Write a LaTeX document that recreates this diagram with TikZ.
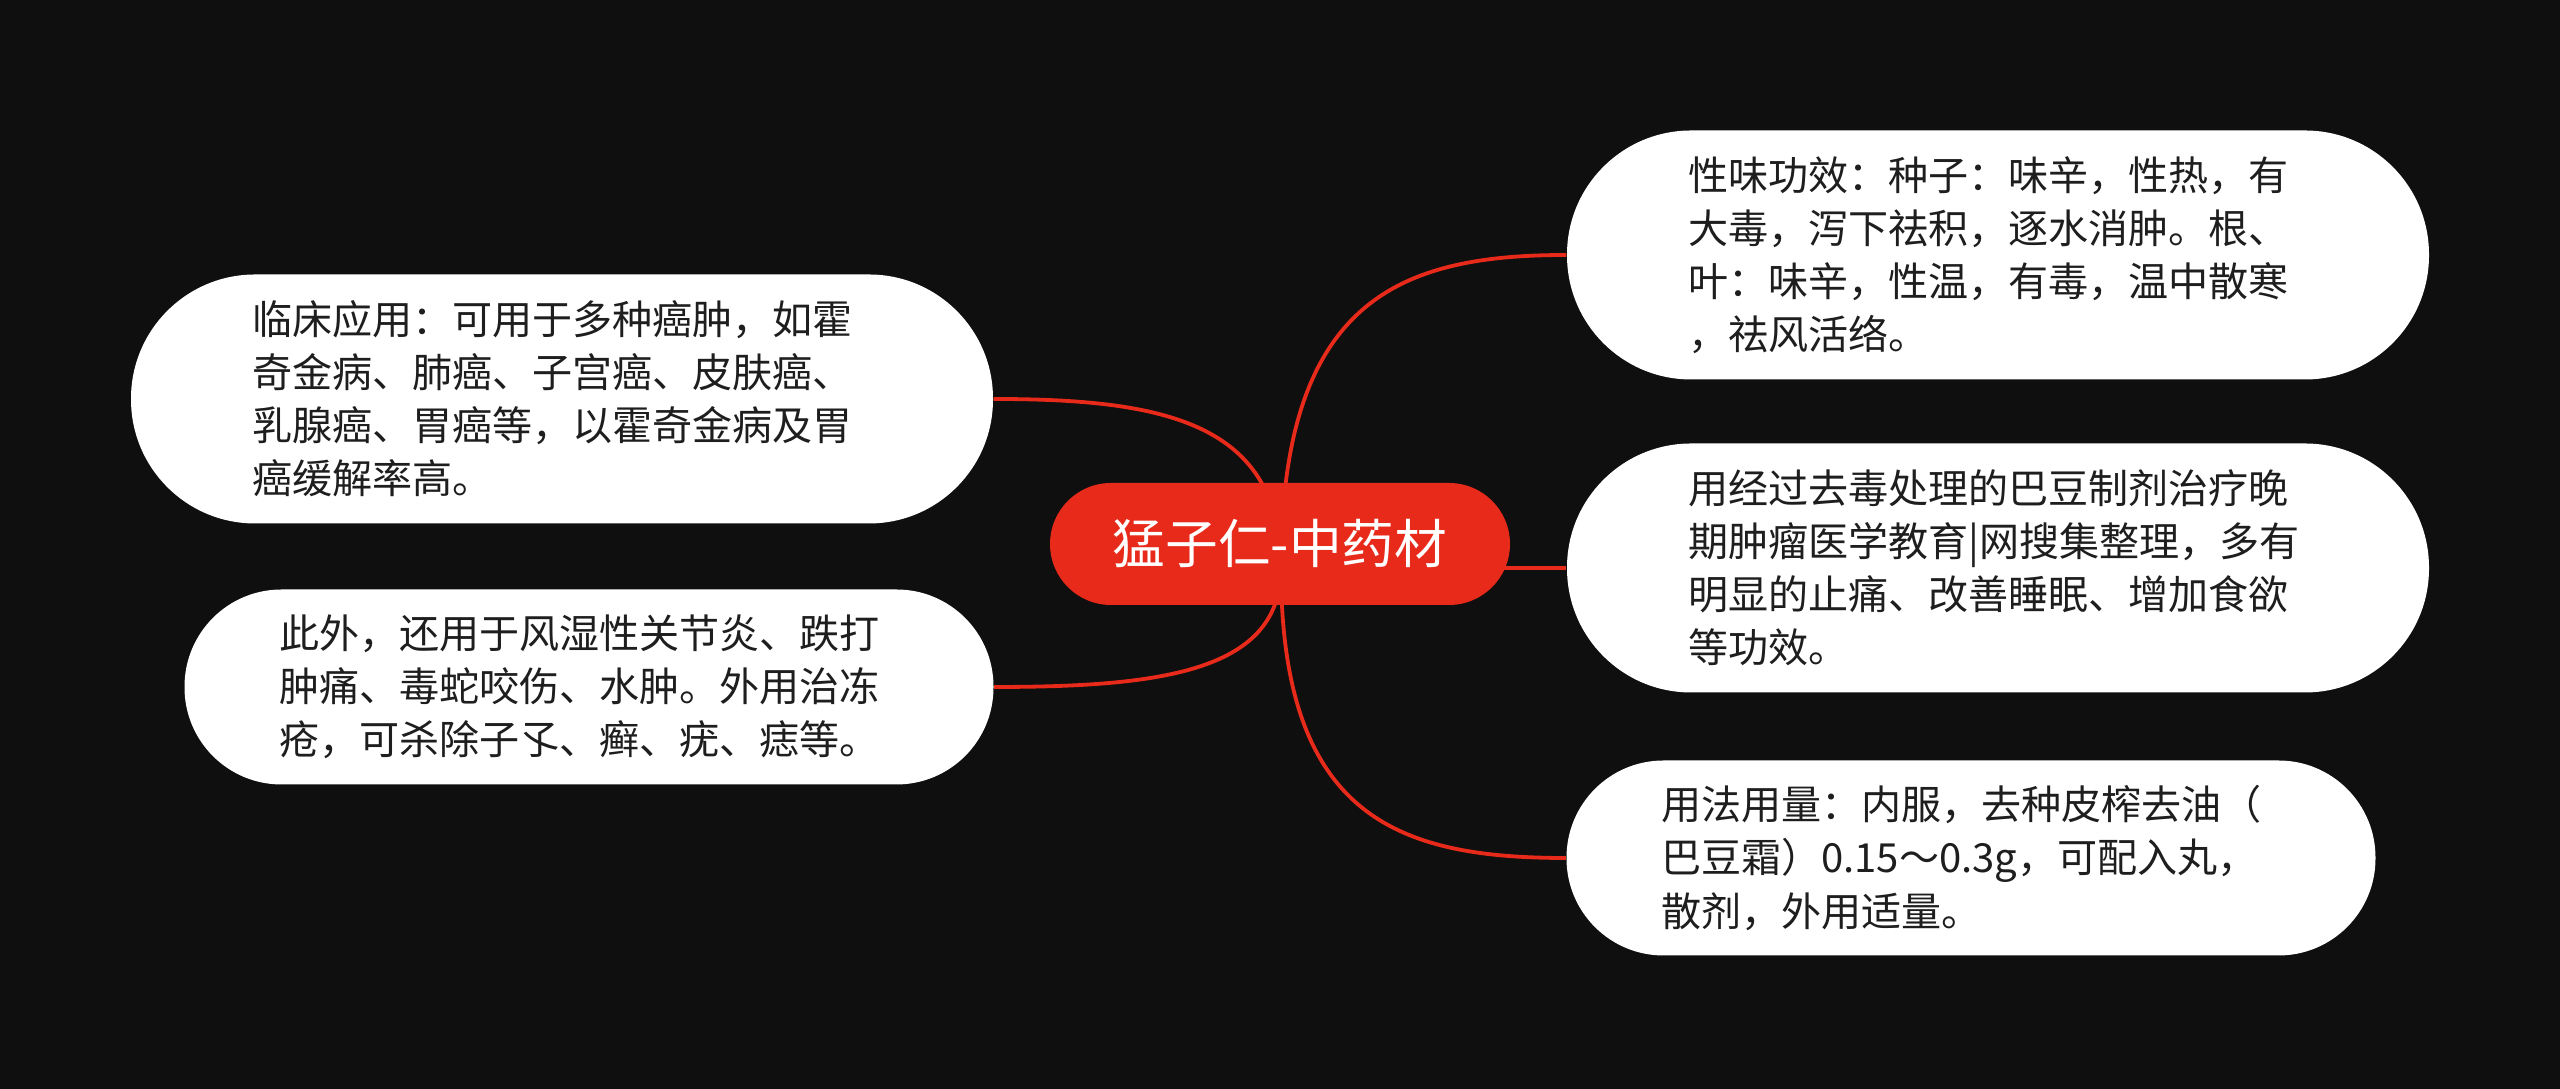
\documentclass[tikz,border=0pt]{standalone}
\usepackage{fontspec}
\setmainfont{Noto Sans CJK SC}
\usetikzlibrary{backgrounds}

\definecolor{mapred}{HTML}{E82A1B}
\definecolor{bgdark}{HTML}{0F0F0F}
\definecolor{leaftext}{HTML}{1E1E1E}

\begin{document}
\begin{tikzpicture}[
    root/.style={fill=mapred, text=white, font=\fontsize{15pt}{18pt}\selectfont,
      minimum width=4.6cm, minimum height=1.22cm, rounded corners=0.61cm, inner sep=0pt},
    leaf/.style={fill=white, text=leaftext, font=\fontsize{11.4pt}{15.1pt}\selectfont,
      text width=6.2cm, align=left, inner sep=0pt},
    wide/.style={minimum width=8.62cm, minimum height=2.49cm, rounded corners=1.24cm},
    narrow/.style={minimum width=8.09cm, minimum height=1.95cm, rounded corners=0.97cm},
    branch/.style={draw=mapred, line width=0.038cm}
  ]
  \useasboundingbox (0,0) rectangle (25.6,10.89);

  \node[root] (root) at (12.80, 5.45) {猛子仁-中药材};
  \coordinate (hub) at (12.81, 5.21);

  % right side
  \node[leaf, wide] (prop) at (19.98, 8.34) {性味功效：种子：味辛，性热，有\\大毒，泻下祛积，逐水消肿。根、\\叶：味辛，性温，有毒，温中散寒\\，祛风活络。};
  \node[leaf, wide] (treat) at (19.98, 5.21) {用经过去毒处理的巴豆制剂治疗晚\\期肿瘤医学教育|网搜集整理，多有\\明显的止痛、改善睡眠、增加食欲\\等功效。};
  \node[leaf, narrow] (dose) at (19.71, 2.31) {用法用量：内服，去种皮榨去油（\\巴豆霜）0.15～0.3g，可配入丸，\\散剂，外用适量。};

  % left side
  \node[leaf, wide] (clin) at (5.62, 6.90) {临床应用：可用于多种癌肿，如霍\\奇金病、肺癌、子宫癌、皮肤癌、\\乳腺癌、胃癌等，以霍奇金病及胃\\癌缓解率高。};
  \node[leaf, narrow] (other) at (5.89, 4.02) {此外，还用于风湿性关节炎、跌打\\肿痛、毒蛇咬伤、水肿。外用治冻\\疮，可杀除子孓、癣、疣、痣等。};

  \begin{scope}[on background layer]
    \fill[bgdark] (0,0) rectangle (25.6,10.89);
    \draw[branch] (hub) .. controls +(0,2.68) and +(-1.67,0) .. (prop.west);
    \draw[branch] (hub) -- (treat.west);
    \draw[branch] (hub) .. controls +(0,-2.49) and +(-1.68,0) .. (dose.west);
    \draw[branch] (hub) .. controls +(0,1.46) and +(1.69,0) .. (clin.east);
    \draw[branch] (hub) .. controls +(0,-1.03) and +(1.69,0) .. (other.east);
  \end{scope}
\end{tikzpicture}
\end{document}
